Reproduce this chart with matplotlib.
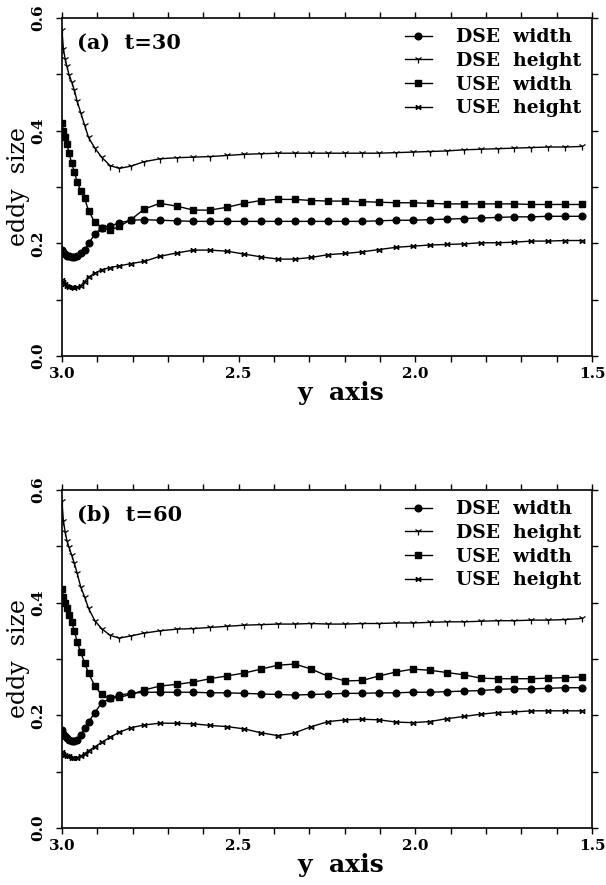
import matplotlib
matplotlib.use("Agg")
import matplotlib.pyplot as plt
from matplotlib.path import Path
import numpy as np

plt.rcParams['font.family'] = ['DejaVu Serif']

# grid along y axis (shared by both panels)
y_pos = [3.000, 2.996, 2.991, 2.986, 2.980, 2.973, 2.965, 2.957, 2.947, 2.936,
         2.925, 2.907, 2.888, 2.864, 2.838, 2.805, 2.767, 2.723, 2.675, 2.628,
         2.581, 2.533, 2.485, 2.437, 2.389, 2.341, 2.294, 2.246, 2.198, 2.150,
         2.102, 2.054, 2.007, 1.959, 1.911, 1.863, 1.815, 1.767, 1.720, 1.672,
         1.624, 1.576, 1.528]

# panel (a) t=30
dse_width_a = [0.189, 0.184, 0.181, 0.178, 0.177, 0.176, 0.176, 0.178, 0.182, 0.189,
               0.200, 0.216, 0.228, 0.231, 0.236, 0.241, 0.242, 0.241, 0.240, 0.239,
               0.239, 0.239, 0.239, 0.239, 0.239, 0.239,
               0.239, 0.239, 0.239, 0.239, 0.240, 0.241, 0.241, 0.242, 0.243, 0.244,
               0.245, 0.246, 0.247, 0.247, 0.248, 0.248, 0.248]
dse_height_a = [0.578, 0.545, 0.527, 0.514, 0.499, 0.487, 0.472, 0.452, 0.432, 0.410,
                0.388, 0.369, 0.353, 0.338, 0.333, 0.337, 0.345, 0.350, 0.352, 0.353,
                0.354, 0.356, 0.358, 0.359, 0.360, 0.360,
                0.360, 0.360, 0.360, 0.360, 0.360, 0.361, 0.362, 0.363, 0.364, 0.366,
                0.367, 0.368, 0.369, 0.370, 0.371, 0.371, 0.372]
use_width_a = [0.414, 0.400, 0.389, 0.376, 0.360, 0.343, 0.327, 0.309, 0.293, 0.280,
               0.258, 0.237, 0.228, 0.223, 0.230, 0.242, 0.261, 0.271, 0.266, 0.259,
               0.259, 0.264, 0.271, 0.276, 0.278, 0.278, 0.276, 0.275,
               0.275, 0.274, 0.273, 0.272, 0.272, 0.271, 0.270, 0.270, 0.270, 0.270,
               0.270, 0.269, 0.269, 0.269, 0.269]
use_height_a = [0.135, 0.131, 0.128, 0.125, 0.123, 0.122, 0.121, 0.122, 0.125, 0.132,
                0.140, 0.147, 0.153, 0.157, 0.160, 0.164, 0.168, 0.177, 0.183, 0.188,
                0.188, 0.186, 0.181, 0.176, 0.172, 0.172, 0.175, 0.180,
                0.182, 0.185, 0.189, 0.193, 0.195, 0.197, 0.198, 0.199, 0.201, 0.201,
                0.202, 0.204, 0.204, 0.205, 0.205]

# panel (b) t=60
dse_width_b = [0.174, 0.167, 0.163, 0.160, 0.157, 0.155, 0.155, 0.157, 0.165, 0.177,
               0.188, 0.205, 0.222, 0.230, 0.236, 0.239, 0.241, 0.241, 0.241, 0.241,
               0.240, 0.240, 0.239, 0.238, 0.237, 0.236, 0.237, 0.238, 0.239, 0.239,
               0.240, 0.240, 0.241, 0.241, 0.242, 0.243, 0.244, 0.246, 0.247, 0.247,
               0.248, 0.249, 0.249]
dse_height_b = [0.580, 0.545, 0.525, 0.510, 0.498, 0.485, 0.470, 0.452, 0.428, 0.410,
                0.390, 0.368, 0.354, 0.342, 0.337, 0.341, 0.346, 0.350, 0.353, 0.354,
                0.356, 0.358, 0.360, 0.361, 0.362, 0.362, 0.363, 0.362, 0.362, 0.363,
                0.363, 0.364, 0.364, 0.365, 0.366, 0.366, 0.367, 0.368, 0.368, 0.369,
                0.369, 0.370, 0.372]
use_width_b = [0.425, 0.410, 0.400, 0.390, 0.378, 0.365, 0.350, 0.330, 0.312, 0.293,
               0.275, 0.252, 0.237, 0.230, 0.232, 0.237, 0.245, 0.252, 0.255, 0.259,
               0.265, 0.270, 0.275, 0.282, 0.289, 0.291, 0.282, 0.269, 0.261, 0.262,
               0.270, 0.277, 0.282, 0.280, 0.276, 0.272, 0.266, 0.265, 0.265, 0.265,
               0.266, 0.267, 0.268]
use_height_b = [0.135, 0.132, 0.130, 0.128, 0.127, 0.125, 0.124, 0.125, 0.128, 0.132,
                0.137, 0.144, 0.152, 0.161, 0.170, 0.178, 0.183, 0.186, 0.186, 0.185,
                0.182, 0.180, 0.176, 0.169, 0.164, 0.169, 0.180, 0.189, 0.192, 0.193,
                0.192, 0.188, 0.187, 0.189, 0.194, 0.198, 0.202, 0.205, 0.206, 0.208,
                0.208, 0.208, 0.208]

labels = ["DSE  width", "DSE  height", "USE  width", "USE  height"]
titles = ["(a)  t=30", "(b)  t=60"]
xtick_vals = [3.0, 2.5, 2.0, 1.5]
ytick_vals = [0.0, 0.2, 0.4, 0.6]

# bow-tie marker for USE height
bowtie = Path([(-1, -1), (1, 1), (-1, 1), (1, -1), (-1, -1), (-1, 1), (1, -1), (1, 1)],
              [Path.MOVETO, Path.LINETO, Path.MOVETO, Path.LINETO,
               Path.MOVETO, Path.LINETO, Path.MOVETO, Path.LINETO])

styles = [dict(marker='o', ms=4.8, mfc='black', mec='black'),
          dict(marker='1', ms=5.5, mew=0.9, mec='black'),
          dict(marker='s', ms=4.6, mfc='black', mec='black'),
          dict(marker=bowtie, ms=3.2, mew=0.9, mec='black', mfc='none')]

W, H = 606, 885
fig = plt.figure(figsize=(W / 100, H / 100), dpi=100)

panels = [
    ([dse_width_a, dse_height_a, use_width_a, use_height_a], titles[0], (18, 356)),
    ([dse_width_b, dse_height_b, use_width_b, use_height_b], titles[1], (490, 828)),
]

for series, title, (top_px, bot_px) in panels:
    ax = fig.add_axes([62 / W, 1 - bot_px / H, (592 - 62) / W, (bot_px - top_px) / H])
    for vals, lab, st in zip(series, labels, styles):
        ax.plot(y_pos, vals, color='black', lw=1.0, label=lab, **st)
    ax.set_xlim(3.0, 1.5)
    ax.set_ylim(0.0, 0.6)
    ax.set_xticks(xtick_vals)
    ax.set_xticklabels([f"{v:.1f}" for v in xtick_vals], fontsize=11, fontweight='bold')
    ax.set_xticks(np.arange(1.5, 3.0001, 0.1), minor=True)
    ax.set_yticks(ytick_vals)
    ax.set_yticklabels([f"{v:.1f}" for v in ytick_vals], fontsize=11, fontweight='bold',
                       rotation=90, va='center')
    ax.set_yticks(np.arange(0.0, 0.6001, 0.1), minor=True)
    for which in ('major', 'minor'):
        ax.tick_params(which=which, direction='out', length=4, width=1.0,
                       top=True, right=True)
    ax.tick_params(axis='x', which='major', pad=4)
    ax.tick_params(axis='y', which='major', pad=8)
    for sp in ax.spines.values():
        sp.set_linewidth(1.2)
    ax.text(0.028, 0.955, title, transform=ax.transAxes, fontsize=15,
            fontweight='bold', ha='left', va='top')
    ax.legend(loc='upper right', bbox_to_anchor=(1.0, 1.0), frameon=False,
              prop=dict(size=13.5, weight='bold'), handlelength=1.45,
              handletextpad=1.3, labelspacing=0.3, borderaxespad=0.45,
              borderpad=0.1, numpoints=1)
    cy = 1 - ((top_px + bot_px) / 2) / H
    fig.text(19 / W, cy, "eddy  size", rotation=90, fontsize=17,
             ha='center', va='center')
    fig.text(341 / W, 1 - (bot_px + 37) / H, "y  axis", fontsize=18,
             fontweight='bold', ha='center', va='center')

fig.savefig("out.png", dpi=100)
